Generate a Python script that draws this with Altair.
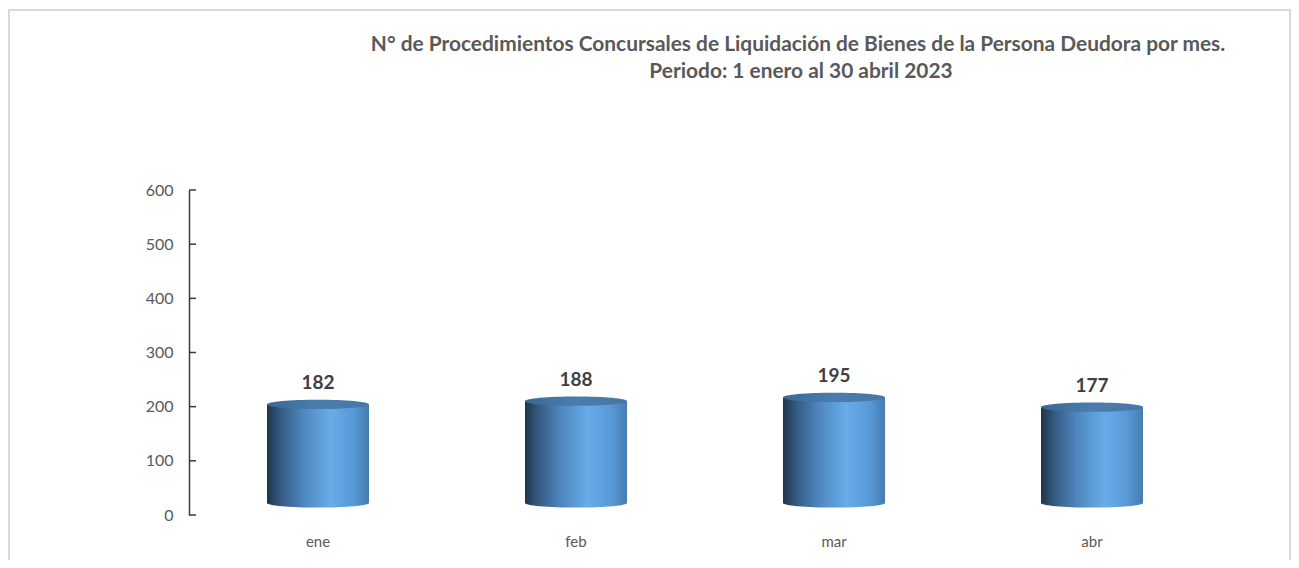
import altair as alt
import pandas as pd

months = ["ene", "feb", "mar", "abr"]
counts = [182, 188, 195, 177]
y_ticks = [0, 100, 200, 300, 400, 500, 600]
title_line1 = "N° de Procedimientos Concursales de Liquidación de Bienes de la Persona Deudora por mes."
title_line2 = "Periodo: 1 enero al 30 abril 2023"

df = pd.DataFrame({"mes": months, "n": counts})
ticks_df = pd.DataFrame({"v": y_ticks})

FONT = "Lato"
W, H = 1032, 325
BAR_W = 102
LIFT = -12  # 3D depth offset

body_grad = alt.Gradient(
    gradient="linear", x1=0, x2=1, y1=0, y2=0,
    stops=[
        alt.GradientStop(offset=0.0, color="#1f3449"),
        alt.GradientStop(offset=0.12, color="#33587f"),
        alt.GradientStop(offset=0.35, color="#4e86bd"),
        alt.GradientStop(offset=0.62, color="#67ace9"),
        alt.GradientStop(offset=0.85, color="#5799d6"),
        alt.GradientStop(offset=1.0, color="#467bb0"),
    ],
)
top_grad = alt.Gradient(
    gradient="linear", x1=0, x2=1, y1=0, y2=0,
    stops=[
        alt.GradientStop(offset=0.0, color="#3c6894"),
        alt.GradientStop(offset=0.5, color="#4a7dae"),
        alt.GradientStop(offset=1.0, color="#4676a5"),
    ],
)

k = 0.09
c = 0.5523
ellipse = (
    f"M-1,0 C-1,{-c*k:.4f} {-c:.4f},{-k} 0,{-k} "
    f"C{c:.4f},{-k} 1,{-c*k:.4f} 1,0 "
    f"C1,{c*k:.4f} {c:.4f},{k} 0,{k} "
    f"C{-c:.4f},{k} -1,{c*k:.4f} -1,0 Z"
)

x_enc = alt.X("mes:N", sort=months, title=None,
              scale=alt.Scale(paddingInner=0, paddingOuter=0),
              axis=alt.Axis(labelAngle=0, domain=False, ticks=False,
                            labelColor="#595959", labelFontSize=15,
                            labelFont=FONT, labelPadding=19))
y_scale = alt.Scale(domain=[0, 600], nice=False)
y_enc = alt.Y("n:Q", scale=y_scale, title=None,
              axis=alt.Axis(values=y_ticks, domainColor="#3a3a3a", domainWidth=1.5,
                            ticks=False, grid=False, labelColor="#595959",
                            labelFontSize=16, labelFont=FONT, labelPadding=16))

base = alt.Chart(df)

bottom = base.mark_point(shape=ellipse, size=BAR_W * BAR_W, filled=True,
                         fill=body_grad, opacity=1, strokeWidth=0,
                         yOffset=LIFT).encode(
    x=x_enc, y=alt.Y("zero:Q", scale=y_scale)
).transform_calculate(zero="0")

body = base.mark_bar(size=BAR_W, fill=body_grad, yOffset=LIFT).encode(
    x=x_enc, y=y_enc
)

top = base.mark_point(shape=ellipse, size=BAR_W * BAR_W, filled=True,
                      fill=top_grad, opacity=1, strokeWidth=0,
                      yOffset=LIFT).encode(
    x=x_enc, y=alt.Y("n:Q", scale=y_scale)
)

labels = base.mark_text(font=FONT, fontWeight="bold", fontSize=19,
                        color="#404040", baseline="middle", dy=-33).encode(
    x=x_enc, y=alt.Y("n:Q", scale=y_scale), text="n:Q"
)

tick_marks = alt.Chart(ticks_df).mark_rule(color="#3a3a3a", strokeWidth=1.5).encode(
    y=alt.Y("v:Q", scale=y_scale), x=alt.value(0), x2=alt.value(7)
)

one = alt.Data(values=[{"a": 1}])
border = alt.Chart(one).mark_rect(
    fill="white", fillOpacity=0, stroke="#d9d9d9", strokeWidth=2
).encode(
    x=alt.value(-180), x2=alt.value(W + 69),
    y=alt.value(-180), y2=alt.value(H + 120)
)

t1 = alt.Chart(one).mark_text(font=FONT, fontSize=20.9, fontWeight="bold",
                              color="#595959", baseline="middle", align="center").encode(
    x=alt.value(609), y=alt.value(-145), text=alt.value(title_line1)
)
t2 = alt.Chart(one).mark_text(font=FONT, fontSize=20.9, fontWeight="bold",
                              color="#595959", baseline="middle", align="center").encode(
    x=alt.value(612), y=alt.value(-118), text=alt.value(title_line2)
)

chart = alt.layer(border, t1, t2, bottom, body, top, labels, tick_marks).properties(
    width=W, height=H,
    background="white",
    padding={"left": 181, "top": 182, "right": 70, "bottom": 45},
    autosize=alt.AutoSizeParams(type="none"),
).configure_view(strokeWidth=0, stroke=None)

chart.save("out.html", embed_options={"renderer": "svg", "actions": False})
